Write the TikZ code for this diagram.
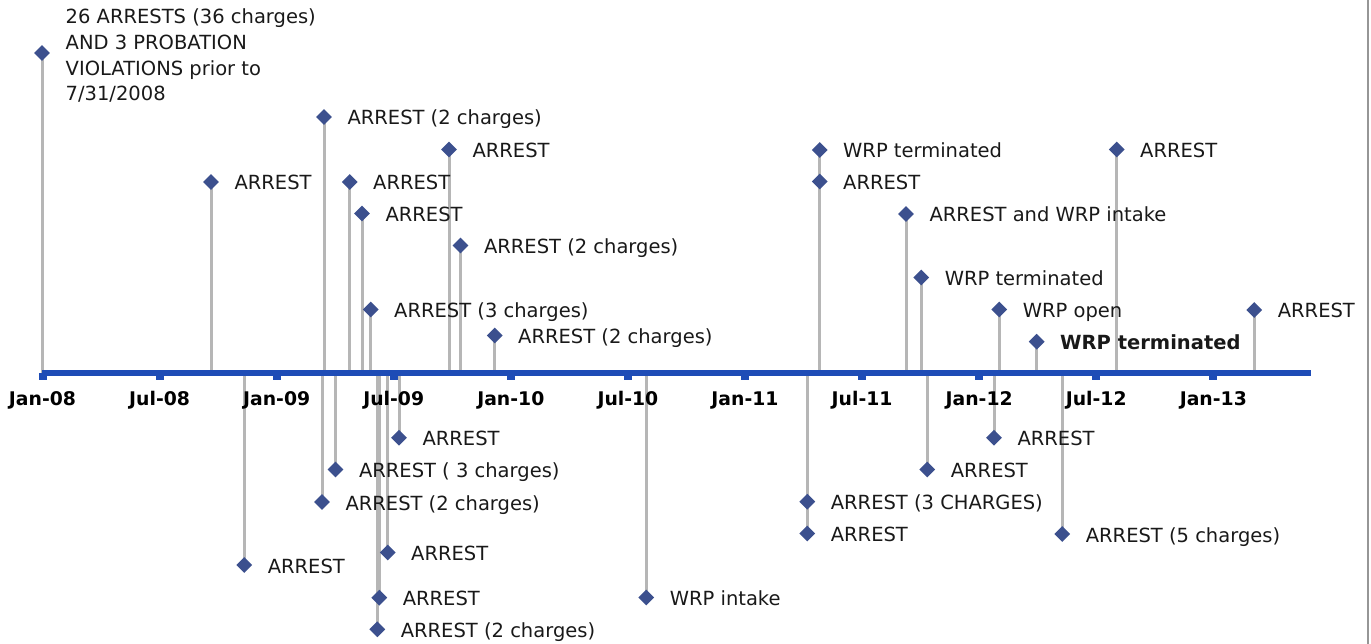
\documentclass[tikz,border=0pt]{standalone}
\usepackage{fontspec}
\setmainfont{DejaVu Sans}
\definecolor{axisblue}{RGB}{30,76,182}
\definecolor{stemgray}{RGB}{182,182,182}
\definecolor{markblue}{RGB}{60,80,142}
\definecolor{txt}{RGB}{25,25,25}
\definecolor{framegray}{RGB}{150,150,150}
\pgfdeclarelayer{stems}
\pgfsetlayers{stems,main}
\tikzset{
  marker/.style={shape=rectangle, rotate=45, fill=markblue, inner sep=0pt,
    outer sep=0pt, minimum width=11.2pt, minimum height=11.2pt},
  stem/.style={draw=stemgray, line width=3pt},
  evlabel/.style={anchor=base west, inner sep=0pt, text=txt,
    font=\fontsize{19.5}{25.8}\selectfont},
  datelabel/.style={anchor=base, inner sep=0pt, text=black,
    font=\fontsize{18.8}{22}\selectfont\bfseries},
  axisline/.style={draw=axisblue, line width=6pt},
  tickmark/.style={fill=axisblue},
}
\begin{document}
\begin{tikzpicture}[x=1pt,y=-1pt]
\useasboundingbox (0,0) rectangle (1371,644);

% frame edge on the right
\coordinate (frT) at (1368,0);
\coordinate (frB) at (1368,644);
\draw[framegray, line width=1.5pt] (frT) -- (frB);

% time axis
\coordinate (axL) at (42,373);
\coordinate (axR) at (1311,373);
\draw[axisline] (axL) -- (axR);

% ticks and date labels, one every six months
\foreach \k/\d in {0/Jan-08,1/Jul-08,2/Jan-09,3/Jul-09,4/Jan-10,5/Jul-10,
                   6/Jan-11,7/Jul-11,8/Jan-12,9/Jul-12,10/Jan-13}{
  \pgfmathsetmacro{\tx}{42.5+117.08*\k}
  \fill[tickmark] (\tx-4,373) rectangle (\tx+4,379.5);
  \node[datelabel] (d\k) at (\tx,405.5) {\d};
}

% first event with its long label
\coordinate (a1) at (42,373);
\node[marker] (m1) at (42,53) {};
\node[evlabel, anchor=north west, align=left] (t1) at (65.5,8.5)
  {26 ARRESTS (36 charges)\\AND 3 PROBATION\\VIOLATIONS prior to\\7/31/2008};
\begin{pgfonlayer}{stems}
  \draw[stem] (a1) -- (m1.center);
\end{pgfonlayer}

% remaining events: number / x / y / label
\foreach \n/\x/\y/\t in {
  2/211/182/{ARREST},
  3/324/117/{ARREST (2 charges)},
  4/349.7/182/{ARREST},
  5/362/213.5/{ARREST},
  6/370.7/309.5/{ARREST (3 charges)},
  7/449/149.5/{ARREST},
  8/460.5/245.5/{ARREST (2 charges)},
  9/494.7/335.5/{ARREST (2 charges)},
  10/819.7/150/{WRP terminated},
  11/819.7/181.5/{ARREST},
  12/906/214/{ARREST and WRP intake},
  13/921.3/277.5/{WRP terminated},
  14/999.3/309.5/{WRP open},
  15/1036.7/341.7/{\textbf{WRP terminated}},
  16/1116.7/149.5/{ARREST},
  17/1254.3/310/{ARREST},
  18/244.3/565/{ARREST},
  19/322/502/{ARREST (2 charges)},
  20/335.5/469.5/{ARREST ( 3 charges)},
  21/399/437.8/{ARREST},
  22/387.7/552.5/{ARREST},
  23/379.3/597.7/{ARREST},
  24/377.3/629.3/{ARREST (2 charges)},
  25/646.3/597.5/{WRP intake},
  26/807.3/501.7/{ARREST (3 CHARGES)},
  27/807.3/533.5/{ARREST},
  28/927.3/469.5/{ARREST},
  29/994/437.8/{ARREST},
  30/1062.3/534/{ARREST (5 charges)}}{
  \coordinate (a\n) at (\x,373);
  \node[marker] (m\n) at (\x,\y) {};
  \node[evlabel] (t\n) at (\x+23.3,\y+8) {\t};
  \begin{pgfonlayer}{stems}
    \draw[stem] (a\n) -- (m\n.center);
  \end{pgfonlayer}
}
\end{tikzpicture}
\end{document}
